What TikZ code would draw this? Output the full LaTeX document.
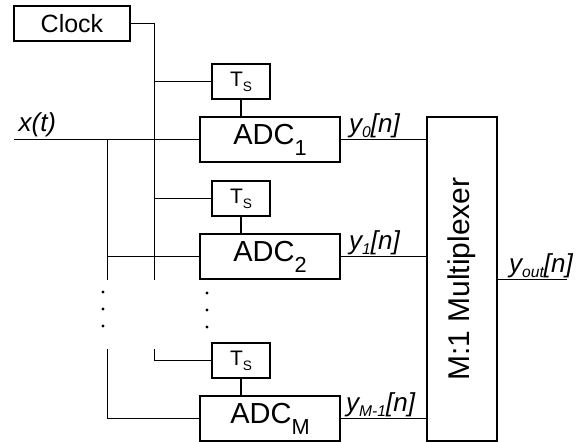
\documentclass[tikz,border=0pt]{standalone}
\usepackage{fontspec}
\setmainfont{Liberation Sans}
\usepackage{tikz}
\usetikzlibrary{positioning}

\newcommand{\dropsub}[3]{\raisebox{-#1}{\scalebox{#2}{#3}}}

\begin{document}
\begin{tikzpicture}[x=0.5pt, y=-0.5pt, line width=0.6pt,
    blk/.style={draw, inner sep=0pt, minimum height=17.5pt},
    tsbox/.style={blk, minimum width=29pt, font=\fontsize{10.5}{12}\selectfont},
    adcbox/.style={blk, minimum width=70pt, minimum height=22.5pt, font=\fontsize{14.5}{16}\selectfont},
    sig/.style={font=\fontsize{13}{15}\selectfont\itshape, inner sep=0pt, anchor=base west}]
    \useasboundingbox (0,0) rectangle (581,442);

    % Blocks
    \node[blk, minimum width=58pt, font=\fontsize{12.5}{14}\selectfont] (clock) at (72,23.5) {Clock};
    \node[tsbox] (ts1) at (241,81.5) {T\dropsub{0.24em}{0.65}{S}};
    \node[adcbox] (adc1) at (270,139.5) {ADC\dropsub{0.38em}{0.75}{1}};
    \node[tsbox] (ts2) at (241,198.5) {T\dropsub{0.24em}{0.65}{S}};
    \node[adcbox] (adc2) at (270,256.5) {ADC\dropsub{0.38em}{0.75}{2}};
    \node[tsbox] (ts3) at (241,360.5) {T\dropsub{0.24em}{0.65}{S}};
    \node[adcbox] (adcM) at (270,418.5) {ADC\dropsub{0.38em}{0.75}{M}};
    \node[draw, inner sep=0pt, minimum width=35pt, minimum height=162pt] (mux) at (462,279)
        {\rotatebox{90}{\fontsize{15}{17}\selectfont M:1 Multiplexer}};

    % Bus ends
    \coordinate (xin) at (14,139.5);
    \coordinate (clkbus) at (154.5,280);
    \coordinate (clkbot) at (154.5,349);
    \coordinate (sigbus) at (107.5,280);
    \coordinate (sigbot) at (107.5,349);
    \coordinate (yout) at (567,279.5);

    % Clock distribution
    \draw (clock.east) -| (clkbus);
    \draw (ts1.west -| clkbus) -- (ts1.west);
    \draw (ts2.west -| clkbus) -- (ts2.west);
    \draw (clkbot) |- (ts3.west);
    \draw (ts1.south) -- (ts1.south |- adc1.north);
    \draw (ts2.south) -- (ts2.south |- adc2.north);
    \draw (ts3.south) -- (ts3.south |- adcM.north);

    % Input signal
    \draw (xin) -- (adc1.west);
    \draw (xin -| sigbus) -- (sigbus);
    \draw (adc2.west -| sigbus) -- (adc2.west);
    \draw (sigbot) |- (adcM.west);
    \node[sig, xshift=2pt, yshift=4pt] (xlbl) at (xin) {x(t)};

    % Outputs
    \draw (adc1.east) -- (adc1.east -| mux.west);
    \draw (adc2.east) -- (adc2.east -| mux.west);
    \draw (adcM.east) -- (adcM.east -| mux.west);
    \draw (mux.east |- yout) -- (yout);
    \node[sig, xshift=4pt, yshift=3.5pt] (y0lbl) at (adc1.east) {y\dropsub{0.2em}{0.6}{0}[n]};
    \node[sig, xshift=4pt, yshift=3.5pt] (y1lbl) at (adc2.east) {y\dropsub{0.2em}{0.6}{1}[n]};
    \node[sig, xshift=2.5pt, yshift=3.5pt] (yMlbl) at (adcM.east) {y\dropsub{0.2em}{0.6}{M-1}[n]};
    \node[sig, xshift=5.5pt, yshift=3.5pt] (youtlbl) at (mux.east) {y\dropsub{0.2em}{0.6}{out}[n]};

    % Dots
    \foreach \y in {292,309,326} \fill (103,\y) circle (0.8pt);
    \foreach \y in {293,310,327} \fill (207,\y) circle (0.8pt);
\end{tikzpicture}
\end{document}
